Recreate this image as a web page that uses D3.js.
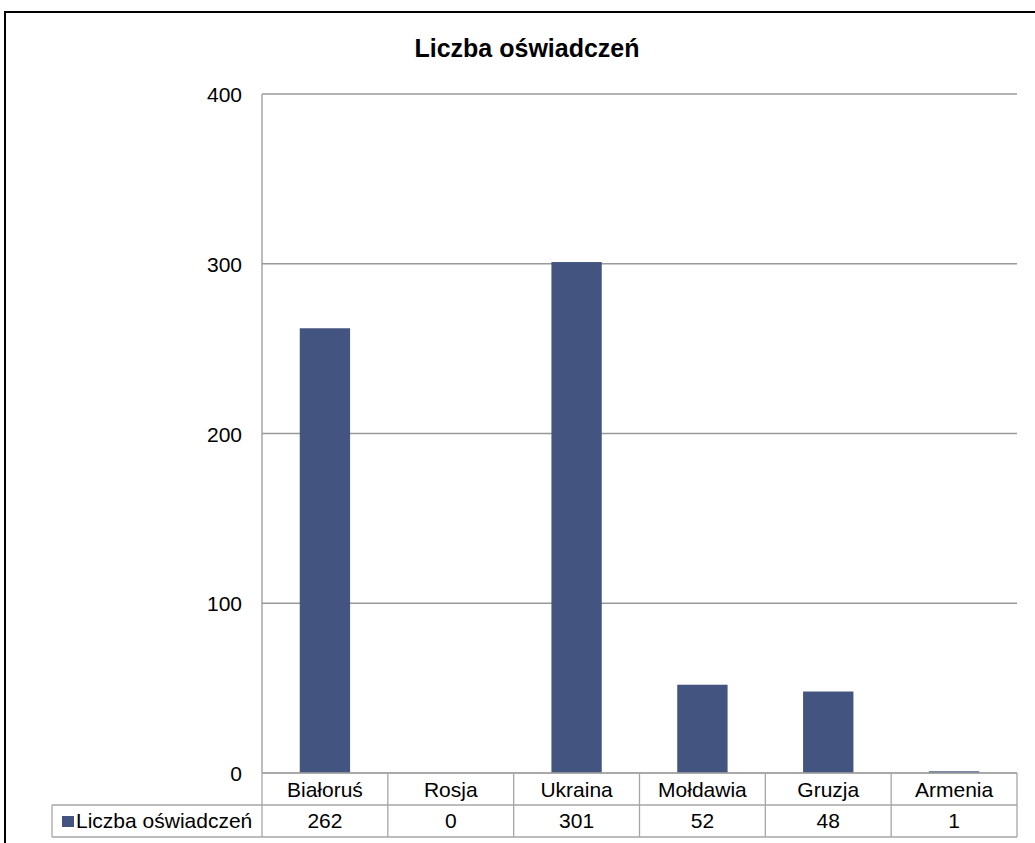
<!DOCTYPE html>
<html><head><meta charset="utf-8">
<script src="https://cdn.jsdelivr.net/npm/d3@7"></script>
<style>body{margin:0;background:#fff;}svg{display:block;font-family:"Liberation Sans",Arial,sans-serif;}</style>
</head><body>
<script>
const categories = ["Białoruś","Rosja","Ukraina","Mołdawia","Gruzja","Armenia"];
const values = [262,0,301,52,48,1];
const seriesName = "Liczba oświadczeń";
const yTicks = [0,100,200,300,400];
const title = "Liczba oświadczeń";

const W=1035,H=843;
const svg=d3.select("body").append("svg").attr("width",W).attr("height",H);
// outer frame (top and left edges visible)
svg.append("path").attr("d",`M5,${H} L5,12 L${W},12`).attr("fill","none").attr("stroke","#000").attr("stroke-width",2);

const m={l:262,r:1017,t:94,b:773};
const x=d3.scaleBand().domain(categories).range([m.l,m.r]).paddingInner(0).paddingOuter(0);
const y=d3.scaleLinear().domain([0,400]).range([m.b,m.t]);

svg.append("text").attr("x",527).attr("y",57).attr("text-anchor","middle").attr("font-weight","bold").attr("font-size",25).text(title);

// gridlines
svg.append("g").selectAll("line").data(yTicks).join("line")
 .attr("x1",m.l).attr("x2",m.r).attr("y1",d=>y(d)).attr("y2",d=>y(d))
 .attr("stroke","#999").attr("stroke-width",1.3);
svg.append("line").attr("x1",m.l).attr("x2",m.l).attr("y1",m.t).attr("y2",m.b).attr("stroke","#999").attr("stroke-width",1.3);

// y labels
svg.append("g").selectAll("text").data(yTicks).join("text")
 .attr("x",242).attr("y",d=>y(d)+8).attr("text-anchor","end").attr("font-size",21).text(d=>d);

// bars
const bw=x.bandwidth()*0.4;
svg.append("g").selectAll("rect").data(values).join("rect")
 .attr("x",(d,i)=>x(categories[i])+x.bandwidth()/2-bw/2)
 .attr("width",bw)
 .attr("y",d=>y(d)).attr("height",d=>m.b-y(d))
 .attr("fill","#42547f");

// data table
const r1=m.b, r2=805, r3=837;
const tg=svg.append("g").attr("stroke","#a6a6a6").attr("stroke-width",1.3);
tg.append("line").attr("x1",52).attr("x2",m.r).attr("y1",r2).attr("y2",r2);
tg.append("line").attr("x1",52).attr("x2",m.r).attr("y1",r3).attr("y2",r3);
tg.append("line").attr("x1",m.l).attr("x2",m.r).attr("y1",r1).attr("y2",r1);
tg.append("line").attr("x1",52).attr("x2",52).attr("y1",r2).attr("y2",r3);
tg.selectAll("line.v").data(categories).join("line").attr("class","v")
 .attr("x1",d=>x(d)).attr("x2",d=>x(d)).attr("y1",r1).attr("y2",r3);
tg.append("line").attr("x1",m.r).attr("x2",m.r).attr("y1",r1).attr("y2",r3);

svg.append("g").selectAll("text").data(categories).join("text")
 .attr("x",d=>x(d)+x.bandwidth()/2).attr("y",797).attr("text-anchor","middle").attr("font-size",21).text(d=>d);
svg.append("g").selectAll("text").data(values).join("text")
 .attr("x",(d,i)=>x(categories[i])+x.bandwidth()/2).attr("y",828).attr("text-anchor","middle").attr("font-size",21).text(d=>d);
svg.append("rect").attr("x",62).attr("y",816).attr("width",12).attr("height",11).attr("fill","#42547f");
svg.append("text").attr("x",76).attr("y",828).attr("font-size",21).text(seriesName);
</script>
</body></html>
